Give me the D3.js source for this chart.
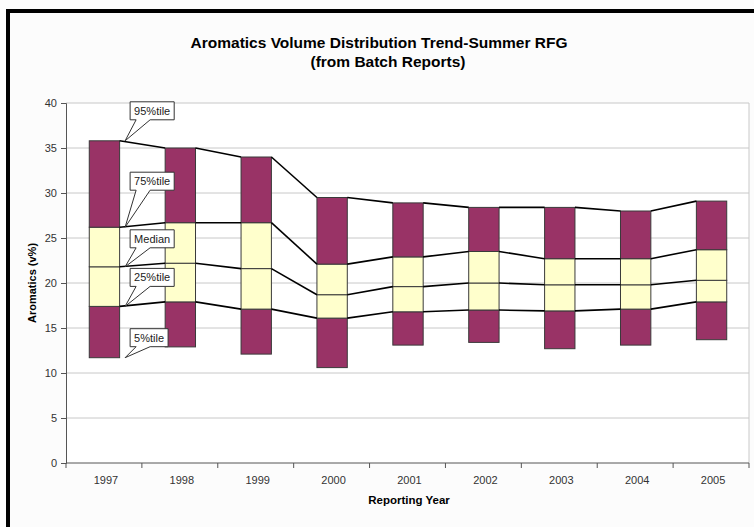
<!DOCTYPE html>
<html>
<head>
<meta charset="utf-8">
<script src="https://cdn.jsdelivr.net/npm/d3@7"></script>
<style>
  body { margin: 0; background: #fcfcfc; }
  svg { display: block; font-family: "Liberation Sans", Arial, sans-serif; }
</style>
</head>
<body>
<script>
// chart values (v% aromatics)
var years = ["1997", "1998", "1999", "2000", "2001", "2002", "2003", "2004", "2005"];
var p05 = [11.7, 12.9, 12.1, 10.6, 13.1, 13.4, 12.7, 13.1, 13.7];
var p25 = [17.4, 17.9, 17.1, 16.1, 16.8, 17.0, 16.9, 17.1, 17.9];
var median = [21.8, 22.2, 21.6, 18.7, 19.6, 20.0, 19.8, 19.8, 20.3];
var p75 = [26.2, 26.7, 26.7, 22.1, 22.9, 23.5, 22.7, 22.7, 23.7];
var p95 = [35.8, 35.0, 34.0, 29.5, 28.9, 28.4, 28.4, 28.0, 29.1];
var yTicks = [0, 5, 10, 15, 20, 25, 30, 35, 40];
var calloutLabels = ["95%tile", "75%tile", "Median", "25%tile", "5%tile"];

var W = 754, H = 527;
var plot = { left: 66, right: 749, top: 103, bottom: 463 };

var svg = d3.select("body").append("svg")
  .attr("width", W)
  .attr("height", H);

// frame (top and left black rule)
svg.append("rect").attr("x", 6).attr("y", 9).attr("width", W - 6).attr("height", 4).attr("fill", "#000");
svg.append("rect").attr("x", 6).attr("y", 9).attr("width", 4).attr("height", H - 9).attr("fill", "#000");

var x = d3.scaleBand()
  .domain(years)
  .range([plot.left, plot.right])
  .paddingInner(0.6)
  .paddingOuter(0.3);

var y = d3.scaleLinear()
  .domain([0, 40])
  .range([plot.bottom, plot.top]);

var bw = x.bandwidth();
var step = x.step();

// plot background + gridlines
svg.append("rect")
  .attr("x", plot.left).attr("y", plot.top)
  .attr("width", plot.right - plot.left).attr("height", plot.bottom - plot.top)
  .attr("fill", "#fff");

svg.append("g").selectAll("line")
  .data(yTicks.filter(function(d){ return d > 0; }))
  .enter().append("line")
  .attr("x1", plot.left).attr("x2", plot.right)
  .attr("y1", function(d){ return y(d); })
  .attr("y2", function(d){ return y(d); })
  .attr("stroke", "#c8c8c8")
  .attr("stroke-width", 1);

svg.append("line")
  .attr("x1", plot.right).attr("x2", plot.right)
  .attr("y1", plot.top).attr("y2", plot.bottom)
  .attr("stroke", "#c8c8c8");

// stacked segments: 5-25 purple, 25-50 yellow, 50-75 yellow, 75-95 purple
var segs = [];
years.forEach(function(yr, i){
  segs.push({ yr: yr, lo: p05[i], hi: p25[i], fill: "#993366" });
  segs.push({ yr: yr, lo: p25[i], hi: median[i], fill: "#ffffcc" });
  segs.push({ yr: yr, lo: median[i], hi: p75[i], fill: "#ffffcc" });
  segs.push({ yr: yr, lo: p75[i], hi: p95[i], fill: "#993366" });
});

svg.append("g").selectAll("rect")
  .data(segs)
  .enter().append("rect")
  .attr("x", function(d){ return x(d.yr) + 0.5; })
  .attr("y", function(d){ return y(d.hi); })
  .attr("width", bw)
  .attr("height", function(d){ return y(d.lo) - y(d.hi); })
  .attr("fill", function(d){ return d.fill; })
  .attr("stroke", "#3a3a3a")
  .attr("stroke-width", 1);

// series lines between bars
var links = [];
[p25, median, p75, p95].forEach(function(s){
  for (var i = 0; i < years.length - 1; i++) {
    links.push({ a: years[i], b: years[i + 1], va: s[i], vb: s[i + 1] });
  }
});

svg.append("g").selectAll("line")
  .data(links)
  .enter().append("line")
  .attr("x1", function(d){ return x(d.a) + bw + 0.5; })
  .attr("x2", function(d){ return x(d.b) + 0.5; })
  .attr("y1", function(d){ return y(d.va); })
  .attr("y2", function(d){ return y(d.vb); })
  .attr("stroke", "#000")
  .attr("stroke-width", 1.6);

// y axis
var yAxis = svg.append("g")
  .attr("transform", "translate(" + plot.left + ",0)")
  .call(d3.axisLeft(y).tickValues(yTicks).tickSize(5).tickPadding(4));
yAxis.select(".domain").attr("stroke", "#555");
yAxis.selectAll(".tick line").attr("stroke", "#555");
yAxis.selectAll("text").attr("fill", "#333").style("font-size", "11px");

// x axis: ticks at category boundaries
svg.append("line")
  .attr("x1", plot.left).attr("x2", plot.right)
  .attr("y1", plot.bottom).attr("y2", plot.bottom)
  .attr("stroke", "#555");

var bounds = years.map(function(yr){ return x(yr) + bw / 2 - step / 2; });
bounds.push(plot.right);
svg.append("g").selectAll("line")
  .data(bounds)
  .enter().append("line")
  .attr("x1", function(d){ return d; }).attr("x2", function(d){ return d; })
  .attr("y1", plot.bottom).attr("y2", plot.bottom + 5)
  .attr("stroke", "#555");

svg.append("g").selectAll("text")
  .data(years)
  .enter().append("text")
  .attr("x", function(d){ return x(d) + bw / 2 + 2; })
  .attr("y", plot.bottom + 21)
  .attr("text-anchor", "middle")
  .attr("fill", "#333")
  .style("font-size", "11px")
  .text(function(d){ return d; });

// titles
svg.append("text")
  .attr("x", 379).attr("y", 48)
  .attr("text-anchor", "middle")
  .style("font-size", "15.5px").style("font-weight", "bold")
  .text("Aromatics Volume Distribution Trend-Summer RFG");
svg.append("text")
  .attr("x", 388).attr("y", 67)
  .attr("text-anchor", "middle")
  .style("font-size", "15.5px").style("font-weight", "bold")
  .text("(from Batch Reports)");

svg.append("text")
  .attr("x", 409).attr("y", 504)
  .attr("text-anchor", "middle")
  .style("font-size", "11.5px").style("font-weight", "bold")
  .text("Reporting Year");

svg.append("text")
  .attr("transform", "translate(36," + y(20) + ") rotate(-90)")
  .attr("text-anchor", "middle")
  .style("font-size", "11px").style("font-weight", "bold")
  .text("Aromatics (v%)");

// callouts pointing at the first bar
var calloutValues = [p95[0], p75[0], median[0], p25[0], p05[0]];
var calloutDy = [-30, -46, -28, -29, -20];   // box centre offset from the pointed value
var ax = x(years[0]) + bw + 6;
var bx = ax + 5, bh = 18;

calloutLabels.forEach(function(lbl, i){
  var py = y(calloutValues[i]);
  var cy = py + calloutDy[i];
  var g = svg.append("g");
  var t = g.append("text")
    .attr("x", bx + 4).attr("y", cy + 4)
    .style("font-size", "11px")
    .attr("fill", "#222")
    .text(lbl);
  var tw = t.node().getComputedTextLength();
  var bwid = tw + 8;
  var top = cy - bh / 2, bot = cy + bh / 2;
  var path = d3.path();
  path.moveTo(bx, top);
  path.lineTo(bx + bwid, top);
  path.lineTo(bx + bwid, bot);
  path.lineTo(bx + 20, bot);
  path.lineTo(ax, py);
  path.lineTo(bx + 6, bot);
  path.lineTo(bx, bot);
  path.closePath();
  g.insert("path", "text")
    .attr("d", path.toString())
    .attr("fill", "#fff")
    .attr("stroke", "#333")
    .attr("stroke-width", 1);
});
</script>
</body>
</html>
